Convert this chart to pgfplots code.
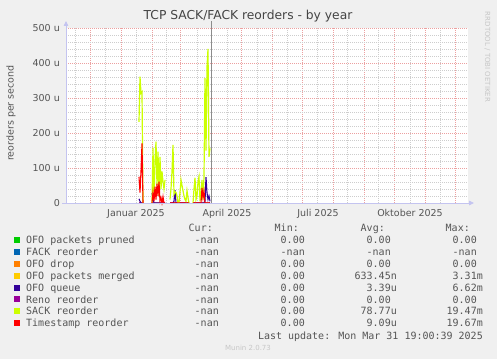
\documentclass[border=0pt]{standalone}
\usepackage{pgfplots}
\pgfplotsset{compat=1.18}
\usepackage{pgfplotstable}
\usepackage{fontspec}
\setmainfont{DejaVu Sans}
\newfontfamily\monofont{DejaVu Sans Mono}
\usetikzlibrary{arrows.meta}
\definecolor{bg}{HTML}{F0F0F0}
\definecolor{mgrid}{RGB}{236,160,160}
\definecolor{mingrid}{RGB}{205,205,205}
\definecolor{axiscol}{RGB}{196,196,240}
\definecolor{txt}{HTML}{555555}
\definecolor{ttl}{HTML}{444444}
\definecolor{cpruned}{HTML}{00CC00}
\definecolor{cfack}{HTML}{0066B3}
\definecolor{cdrop}{HTML}{FF8000}
\definecolor{cmerged}{HTML}{FFCC00}
\definecolor{cqueue}{HTML}{330099}
\definecolor{creno}{HTML}{990099}
\definecolor{csack}{HTML}{CCFF00}
\definecolor{cts}{HTML}{FF0000}

\pgfplotstableread{
d pruned drop merged queue reno sack ts
18 0 0 0 12 0 232 75
19 0 0 0 5 0 361 30
20 0 0 0 0 0 314 90
21 0 0 0 0 0 318 170
22 0 0 0 0 0 0 0
26 nan nan nan nan nan nan nan
31 0 0 0 28 0 0 0
32 0 0 0 10 0 158 30
33 0 0 0 0 0 10 5
34 0 0 0 0 0 120 47
35 0 0 0 0 0 175 10
36 0 0 0 0 0 50 55
37 0 0 0 0 0 147 20
38 0 0 0 0 0 20 61
39 0 0 0 0 0 132 5
40 0 0 0 0 0 40 15
41 0 0 0 0 0 90 0
42 0 0 0 0 0 61 18
43 0 0 0 0 0 40 0
44 0 0 0 0 0 66 0
46 nan nan nan nan nan nan nan
49 0 0 0 0 0 10 0
50 0 0 0 0 0 40 0
51 0 0 0 0 0 90 0
52 0 0 0 0 0 166 0
53 0 0 0 5 0 25 0
54 0 0 0 37 0 32 0
55 0 0 0 0 0 30 0
56 0 0 0 0 0 20 0
57 0 0 0 0 0 0 0
58 0 0 0 0 0 0 0
59 0 0 0 0 0 30 0
60 0 0 0 0 0 66 0
61 0 0 0 0 0 50 0
62 0 0 0 0 0 35 0
63 0 0 0 0 0 20 0
64 0 0 0 0 0 10 0
65 0 0 0 0 0 5 0
66 0 0 0 0 0 35 0
67 0 0 0 0 0 15 0
68 0 0 0 0 0 0 0
70 nan nan nan nan nan nan nan
72 0 0 0 0 0 0 0
73 0 0 0 0 0 40 0
74 0 0 0 0 0 72 0
75 0 0 0 0 0 10 0
76 0 0 0 0 0 20 0
77 0 0 0 0 0 60 0
78 0 0 0 0 0 75 0
79 0 0 0 0 0 5 0
80 0 0 0 0 0 30 0
81 0 0 0 0 0 66 43
82 0 0 0 0 0 10 15
83 0 0 0 0 0 75 35
84 0 0 0 5 0 357 0
85 0 0 0 74 0 150 0
86 0 0 0 30 0 389 0
87 0 0 0 10 0 440 0
88 0 0 0 20 0 132 0
89 0 0 0 5 0 156 0
}\data

\newcommand{\legrow}[7]{%
  \fill[#2] (14,#1+0.6) rectangle (20,#1+6.6);
  \node[anchor=base west, inner sep=0pt] at (26,#1) {#3};
  \node[anchor=base east, inner sep=0pt] at (219,#1) {#4};
  \node[anchor=base east, inner sep=0pt] at (305,#1) {#5};
  \node[anchor=base east, inner sep=0pt] at (397,#1) {#6};
  \node[anchor=base east, inner sep=0pt] at (483,#1) {#7};
}

\begin{document}
\begin{tikzpicture}[x=1pt,y=1pt]
\path[use as bounding box, fill=bg] (0,0) rectangle (497,359);
\begin{axis}[
  at={(66pt,156pt)}, anchor=south west,
  width=402pt, height=175pt, scale only axis,
  xmin=-55, xmax=347, ymin=0, ymax=500,
  clip=false,
  axis line style={draw=none},
  axis background/.style={fill=white},
  major tick length=0pt, minor tick length=0pt,
  xtick={-31,0,31,59,90,120,151,181,212,243,273,304,334},
  xticklabels={},
  minor xtick={-46,-16,15,45,76,106,136,166,196,226,257,289,319},
  ytick={0,100,200,300,400,500},
  yticklabels={0\hspace{7pt},100 u,200 u,300 u,400 u,500 u},
  minor ytick={20,40,60,80,120,140,160,180,220,240,260,280,320,340,360,380,420,440,460,480},
  grid=both,
  major grid style={dash pattern=on 1pt off 1pt, color=mgrid, line width=0.6pt},
  minor grid style={dash pattern=on 1pt off 1pt, color=mingrid, line width=0.6pt},
  yticklabel style={font=\fontsize{9.5}{11}\selectfont, text=txt, inner sep=0pt, anchor=east, xshift=-6pt},
  extra x ticks={15,106,197,289},
  extra x tick labels={Januar 2025,April 2025,Juli 2025,Oktober 2025},
  extra x tick style={grid=none, major tick length=0pt,
    xticklabel style={font=\fontsize{9.5}{11}\selectfont, text=txt, inner sep=0pt, anchor=north, yshift=-6pt}},
  unbounded coords=jump,
]
\addplot[cpruned, line width=1pt] table[x=d, y=pruned] {\data};
\addplot[cdrop, line width=1pt] table[x=d, y=drop] {\data};
\addplot[cmerged, line width=1pt] table[x=d, y=merged] {\data};
\addplot[cqueue, line width=1.1pt] table[x=d, y=queue] {\data};
\addplot[creno, line width=1pt] table[x=d, y=reno] {\data};
\addplot[csack, line width=1.2pt] table[x=d, y=sack] {\data};
\addplot[cts, line width=1.1pt] table[x=d, y=ts] {\data};
\addplot[color=black!45, line width=1pt] coordinates {(90,0) (90,520)};
\end{axis}
% axis lines with arrows
\draw[axiscol, line width=0.8pt, -{Triangle[width=4.5pt,length=5pt]}] (66,156) -- (66,338);
\draw[axiscol, line width=0.8pt, -{Triangle[width=4.5pt,length=5pt]}] (62,156) -- (474,156);
% title and labels
\node[anchor=base, inner sep=0pt, text=ttl, font=\fontsize{12.3}{14}\selectfont] at (248,339) {TCP SACK/FACK reorders - by year};
\node[rotate=90, inner sep=0pt, text=txt, font=\fontsize{9.5}{11}\selectfont] at (11,246) {reorders per second};
\node[rotate=-90, inner sep=0pt, text=black!22, font=\fontsize{7}{8}\selectfont] at (487.5,302) {RRDTOOL / TOBI OETIKER};
% legend
\begin{scope}[font=\monofont\fontsize{10}{12}\selectfont, text=txt]
\node[anchor=base east, inner sep=0pt] at (213,128) {Cur:};
\node[anchor=base east, inner sep=0pt] at (299,128) {Min:};
\node[anchor=base east, inner sep=0pt] at (385,128) {Avg:};
\node[anchor=base east, inner sep=0pt] at (470,128) {Max:};
\legrow{115.5}{cpruned}{OFO packets pruned}{-nan}{0.00}{0.00\phantom{n}}{0.00\phantom{n}}
\legrow{103.6}{cfack}{FACK reorder}{-nan}{-nan}{-nan\phantom{n}}{-nan\phantom{n}}
\legrow{91.7}{cdrop}{OFO drop}{-nan}{0.00}{0.00\phantom{n}}{0.00\phantom{n}}
\legrow{79.8}{cmerged}{OFO packets merged}{-nan}{0.00}{633.45n}{3.31m}
\legrow{67.9}{cqueue}{OFO queue}{-nan}{0.00}{3.39u}{6.62m}
\legrow{56.0}{creno}{Reno reorder}{-nan}{0.00}{0.00\phantom{n}}{0.00\phantom{n}}
\legrow{44.1}{csack}{SACK reorder}{-nan}{0.00}{78.77u}{19.47m}
\legrow{32.2}{cts}{Timestamp reorder}{-nan}{0.00}{9.09u}{19.67m}
\node[anchor=base east, inner sep=0pt] at (483,19.4) {Last update: Mon Mar 31 19:00:39 2025};
\end{scope}
\node[anchor=base, inner sep=0pt, text=black!22, font=\fontsize{7}{8}\selectfont] at (248,8.8) {Munin 2.0.73};
\end{tikzpicture}
\end{document}
